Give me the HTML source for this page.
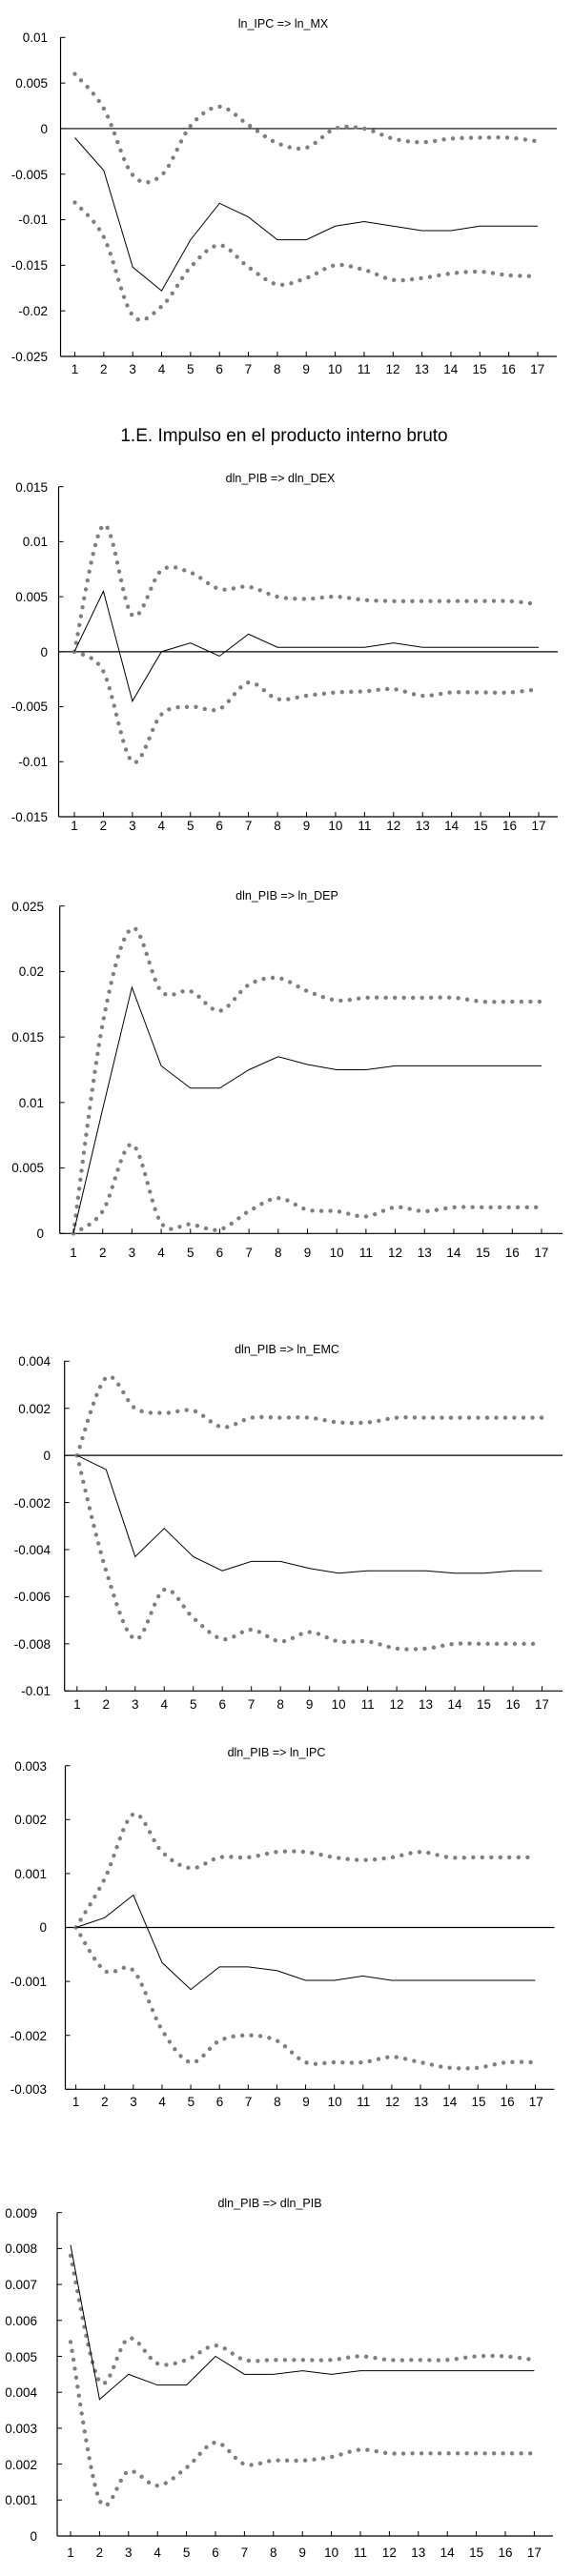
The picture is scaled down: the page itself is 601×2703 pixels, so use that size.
<!DOCTYPE html>
<html><head><meta charset="utf-8">
<style>
html,body{margin:0;padding:0;background:#fff;}
body{width:601px;height:2703px;position:relative;overflow:hidden;font-family:"Liberation Sans",sans-serif;color:#000;}
svg{position:absolute;left:0;top:0;}
.xl{position:absolute;display:grid;grid-template-columns:repeat(17,1fr);font-size:13.5px;text-align:center;line-height:16px;}
.t{position:absolute;transform:translateX(-50%);font-size:12.5px;white-space:nowrap;line-height:14px;}
.h{position:absolute;transform:translateX(-50%);font-size:19px;white-space:nowrap;line-height:22px;}
</style></head><body>
<svg id="s" width="601" height="2703" viewBox="0 0 601 2703" font-family="Liberation Sans, sans-serif" font-size="13.5">
<g text-anchor="end" id="yl">
<text x="50" y="44">0.01</text><text x="50" y="92">0.005</text><text x="50" y="140">0</text><text x="50" y="188">-0.005</text><text x="50" y="235">-0.01</text><text x="50" y="283">-0.015</text><text x="50" y="331">-0.02</text><text x="50" y="379">-0.025</text>

<text x="50" y="516">0.015</text><text x="50" y="573">0.01</text><text x="50" y="631">0.005</text><text x="50" y="689">0</text><text x="50" y="746">-0.005</text><text x="50" y="804">-0.01</text><text x="50" y="862">-0.015</text>

<text x="46" y="956">0.025</text><text x="46" y="1024">0.02</text><text x="46" y="1093">0.015</text><text x="46" y="1162">0.01</text><text x="46" y="1230">0.005</text><text x="46" y="1299">0</text>

<text x="53" y="1433">0.004</text><text x="53" y="1483">0.002</text><text x="53" y="1532">0</text><text x="53" y="1582">-0.002</text><text x="53" y="1631">-0.004</text><text x="53" y="1680">-0.006</text><text x="53" y="1730">-0.008</text><text x="53" y="1779">-0.01</text>

<text x="49" y="1858">0.003</text><text x="49" y="1914">0.002</text><text x="49" y="1971">0.001</text><text x="49" y="2027">0</text><text x="49" y="2084">-0.001</text><text x="49" y="2141">-0.002</text><text x="49" y="2197">-0.003</text>

<text x="39" y="2327">0.009</text><text x="39" y="2364">0.008</text><text x="39" y="2402">0.007</text><text x="39" y="2440">0.006</text><text x="39" y="2478">0.005</text><text x="39" y="2515">0.004</text><text x="39" y="2553">0.003</text><text x="39" y="2591">0.002</text><text x="39" y="2628">0.001</text><text x="39" y="2666">0</text>
</g>
</svg>

<div class="t" style="left:297px;top:18px">ln_IPC =&gt; ln_MX</div>
<div class="h" style="left:298px;top:447px">1.E. Impulso en el producto interno bruto</div>
<div class="t" style="left:294px;top:495px">dln_PIB =&gt; dln_DEX</div>
<div class="t" style="left:301px;top:933px">dln_PIB =&gt; ln_DEP</div>
<div class="t" style="left:301px;top:1409px">dln_PIB =&gt; ln_EMC</div>
<div class="t" style="left:290px;top:1832px">dln_PIB =&gt; ln_IPC</div>
<div class="t" style="left:283px;top:2305px">dln_PIB =&gt; dln_PIB</div>

<div class="xl" style="left:63.3px;width:515.6px;top:380px"><span>1</span><span>2</span><span>3</span><span>4</span><span>5</span><span>6</span><span>7</span><span>8</span><span>9</span><span>10</span><span>11</span><span>12</span><span>13</span><span>14</span><span>15</span><span>16</span><span>17</span></div>
<div class="xl" style="left:62.8px;width:517.4px;top:859px"><span>1</span><span>2</span><span>3</span><span>4</span><span>5</span><span>6</span><span>7</span><span>8</span><span>9</span><span>10</span><span>11</span><span>12</span><span>13</span><span>14</span><span>15</span><span>16</span><span>17</span></div>
<div class="xl" style="left:61.7px;width:521.6px;top:1307px"><span>1</span><span>2</span><span>3</span><span>4</span><span>5</span><span>6</span><span>7</span><span>8</span><span>9</span><span>10</span><span>11</span><span>12</span><span>13</span><span>14</span><span>15</span><span>16</span><span>17</span></div>
<div class="xl" style="left:65.6px;width:518.1px;top:1781px"><span>1</span><span>2</span><span>3</span><span>4</span><span>5</span><span>6</span><span>7</span><span>8</span><span>9</span><span>10</span><span>11</span><span>12</span><span>13</span><span>14</span><span>15</span><span>16</span><span>17</span></div>
<div class="xl" style="left:64.6px;width:512.8px;top:2198px"><span>1</span><span>2</span><span>3</span><span>4</span><span>5</span><span>6</span><span>7</span><span>8</span><span>9</span><span>10</span><span>11</span><span>12</span><span>13</span><span>14</span><span>15</span><span>16</span><span>17</span></div>
<div class="xl" style="left:58.8px;width:516.8px;top:2671px"><span>1</span><span>2</span><span>3</span><span>4</span><span>5</span><span>6</span><span>7</span><span>8</span><span>9</span><span>10</span><span>11</span><span>12</span><span>13</span><span>14</span><span>15</span><span>16</span><span>17</span></div>

<script>
var C=[
{L:63.5,R:584,t1:78.5,t17:564,yT:39.3,vT:0.01,yB:374,vB:-0.025,st:0.005,
 m:[-0.001,-0.0046,-0.0152,-0.0178,-0.0122,-0.0082,-0.0097,-0.0122,-0.0122,-0.0107,-0.0102,-0.0107,-0.0112,-0.0112,-0.0107,-0.0107,-0.0107],
 u:[0.006,0.0022,-0.0051,-0.0051,0.0003,0.0024,0.0004,-0.0016,-0.0021,0,0,-0.0011,-0.0015,-0.0011,-0.001,-0.001,-0.0014],
 l:[-0.0081,-0.0119,-0.0205,-0.0195,-0.0152,-0.0128,-0.0152,-0.0171,-0.0164,-0.015,-0.0155,-0.0166,-0.0164,-0.0159,-0.0157,-0.0161,-0.0162]},
{L:61.5,R:585,t1:78,t17:565,yT:510.7,vT:0.015,yB:857,vB:-0.015,st:0.005,
 m:[0,0.0055,-0.0045,0,0.0008,-0.0004,0.0016,0.0004,0.0004,0.0004,0.0004,0.0008,0.0004,0.0004,0.0004,0.0004,0.0004],
 u:[0,0.0115,0.0033,0.0074,0.0072,0.0057,0.0059,0.005,0.0048,0.005,0.0047,0.0046,0.0046,0.0046,0.0046,0.0046,0.0043],
 l:[0,-0.0018,-0.01,-0.0057,-0.005,-0.0052,-0.0028,-0.0043,-0.004,-0.0037,-0.0036,-0.0034,-0.004,-0.0037,-0.0037,-0.0037,-0.0034]},
{L:62.7,R:590,t1:77,t17:568,yT:950.7,vT:0.025,yB:1294.3,vB:0,st:0.005,
 m:[0,0.0095,0.0188,0.0128,0.0111,0.0111,0.0125,0.0135,0.0129,0.0125,0.0125,0.0128,0.0128,0.0128,0.0128,0.0128,0.0128],
 u:[0,0.016,0.0233,0.0185,0.0185,0.017,0.019,0.0195,0.0185,0.0178,0.018,0.018,0.018,0.018,0.0177,0.0177,0.0177],
 l:[0,0.0017,0.0068,0.0008,0.0007,0.0003,0.0017,0.0027,0.0018,0.0017,0.0013,0.002,0.0017,0.002,0.002,0.002,0.002]},
{L:67.7,R:590,t1:80.8,t17:568.5,yT:1428.3,vT:0.004,yB:1774.3,vB:-0.01,st:0.002,
 m:[0,-0.0006,-0.0043,-0.0031,-0.0043,-0.0049,-0.0045,-0.0045,-0.0048,-0.005,-0.0049,-0.0049,-0.0049,-0.005,-0.005,-0.0049,-0.0049],
 u:[0,0.0033,0.002,0.0018,0.0019,0.0012,0.0016,0.0016,0.0016,0.0014,0.0014,0.0016,0.0016,0.0016,0.0016,0.0016,0.0016],
 l:[0,-0.0049,-0.0078,-0.0057,-0.0069,-0.0078,-0.0074,-0.0079,-0.0075,-0.0079,-0.0079,-0.0082,-0.0082,-0.008,-0.008,-0.008,-0.008]},
{L:68.5,R:581.5,t1:79.6,t17:561.5,yT:1852.7,vT:0.003,yB:2192.3,vB:-0.003,st:0.001,
 m:[0,0.00018,0.0006,-0.00065,-0.00115,-0.00073,-0.00073,-0.0008,-0.00098,-0.00098,-0.0009,-0.00098,-0.00098,-0.00098,-0.00098,-0.00098,-0.00098],
 u:[0,0.0009,0.0021,0.0014,0.0011,0.0013,0.0013,0.0014,0.0014,0.0013,0.00125,0.0013,0.0014,0.0013,0.0013,0.0013,0.0013],
 l:[0,-0.0008,-0.0008,-0.0019,-0.0025,-0.0021,-0.002,-0.0021,-0.0025,-0.0025,-0.0025,-0.0024,-0.0025,-0.0026,-0.0026,-0.0025,-0.0025]},
{L:60,R:580,t1:74,t17:560.4,yT:2321.7,vT:0.009,yB:2661,vB:0,st:0.001,
 m:[0.0081,0.0038,0.0045,0.0042,0.0042,0.005,0.0045,0.0045,0.0046,0.0045,0.0046,0.0046,0.0046,0.0046,0.0046,0.0046,0.0046],
 u:[0.0078,0.0043,0.0055,0.0048,0.0049,0.0053,0.0049,0.0049,0.0049,0.0049,0.005,0.0049,0.0049,0.0049,0.005,0.005,0.0049],
 l:[0.0054,0.001,0.0018,0.0014,0.0019,0.0026,0.002,0.0021,0.0021,0.0022,0.0024,0.0023,0.0023,0.0023,0.0023,0.0023,0.0023]}
];
var s=document.getElementById('s'),out='';
C.forEach(function(c){
 var sx=(c.t17-c.t1)/16;
 function Y(v){return c.yT+(c.vT-v)/(c.vT-c.vB)*(c.yB-c.yT);}
 function X(i){return c.t1+i*sx;}
 out+='<line x1="'+c.L+'" y1="'+c.yT+'" x2="'+c.L+'" y2="'+c.yB+'" stroke="#000" stroke-width="1.2"/>';
 out+='<line x1="'+c.L+'" y1="'+c.yB+'" x2="'+c.R+'" y2="'+c.yB+'" stroke="#000" stroke-width="1.2"/>';
 for(var v=c.vT;v>=c.vB-1e-9;v-=c.st){var y=Y(v);out+='<line x1="'+c.L+'" y1="'+y+'" x2="'+(c.L+5)+'" y2="'+y+'" stroke="#000"/>';}
 for(var i=0;i<17;i++){out+='<line x1="'+X(i)+'" y1="'+c.yB+'" x2="'+X(i)+'" y2="'+(c.yB-5)+'" stroke="#000"/>';}
 if(c.vB<0&&c.vT>0){var y0=Y(0);out+='<line x1="'+c.L+'" y1="'+y0+'" x2="'+c.R+'" y2="'+y0+'" stroke="#000" stroke-width="1.2"/>';}
 function smooth(a){var p=a.map(function(v,i){return [X(i),Y(v)];});var d='M'+p[0][0]+','+p[0][1];
  for(var i=0;i<p.length-1;i++){var p0=p[i-1]||p[i],p1=p[i],p2=p[i+1],p3=p[i+2]||p2;
   d+=' C'+(p1[0]+(p2[0]-p0[0])/6)+','+(p1[1]+(p2[1]-p0[1])/6)+' '+(p2[0]-(p3[0]-p1[0])/6)+','+(p2[1]-(p3[1]-p1[1])/6)+' '+p2[0]+','+p2[1];}
  return d;}
 var dl='fill="none" stroke="#7f7f7f" stroke-width="4.4" stroke-linecap="round" stroke-dasharray="0 9.5"';
 out+='<path d="'+smooth(c.u)+'" '+dl+'/>';
 out+='<path d="'+smooth(c.l)+'" '+dl+'/>';
 out+='<polyline points="'+c.m.map(function(v,i){return X(i)+','+Y(v);}).join(' ')+'" fill="none" stroke="#000" stroke-width="1"/>';
});
s.insertAdjacentHTML('beforeend',out);
</script>
</body></html>
